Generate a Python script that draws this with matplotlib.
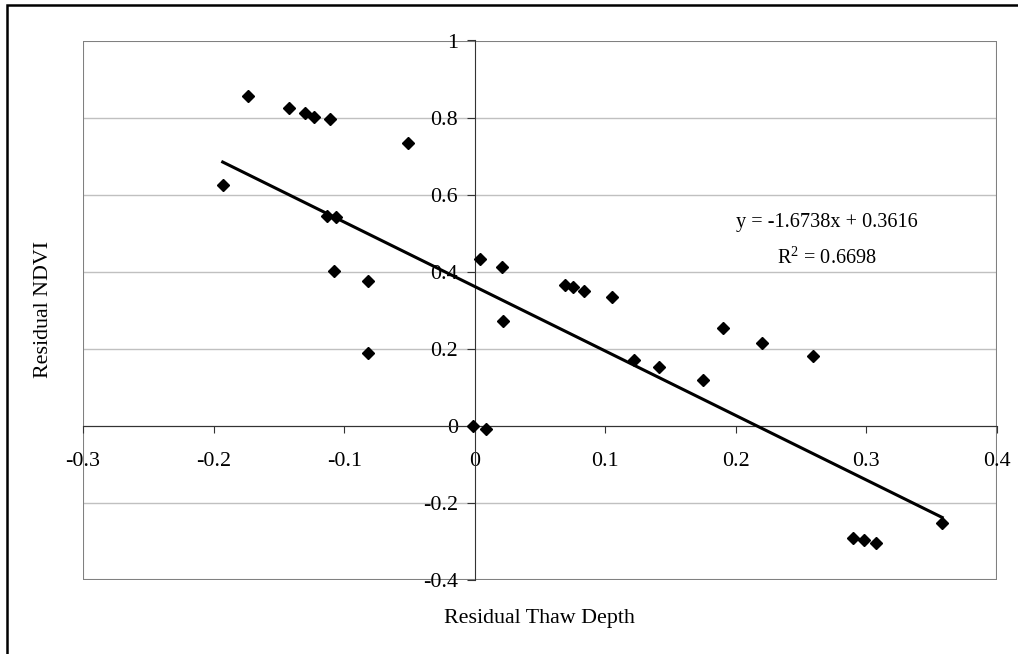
import numpy as np
import matplotlib.pyplot as plt
from matplotlib.patches import Rectangle


# =========================================================
# DATA
# =========================================================

thaw_depth = [
    -0.193, -0.174, -0.142, -0.130, -0.123, -0.111, -0.051,
    -0.113, -0.106, -0.108, -0.082, -0.082,
    0.004, -0.001, 0.009, 0.021, 0.022,
    0.069, 0.075, 0.084, 0.105,
    0.122, 0.141, 0.175, 0.190, 0.220, 0.259,
    0.290, 0.298, 0.307, 0.358,
]

ndvi = [
    0.625, 0.856, 0.826, 0.813, 0.802, 0.795, 0.733,
    0.545, 0.541, 0.403, 0.376, 0.188,
    0.433, 0.000, -0.008, 0.411, 0.272,
    0.366, 0.360, 0.350, 0.334,
    0.171, 0.154, 0.119, 0.253, 0.214, 0.180,
    -0.292, -0.296, -0.305, -0.253,
]

slope = -1.6738
intercept = 0.3616
r_squared = 0.6698

x_ticks = [-0.3, -0.2, -0.1, 0, 0.1, 0.2, 0.3, 0.4]
x_tick_labels = ["-0.3", "-0.2", "-0.1", "0", "0.1", "0.2", "0.3", "0.4"]

y_ticks = [-0.4, -0.2, 0, 0.2, 0.4, 0.6, 0.8, 1]
y_tick_labels = ["-0.4", "-0.2", "0", "0.2", "0.4", "0.6", "0.8", "1"]


# =========================================================
# FIGURE
# =========================================================

plt.rcParams["font.family"] = ["Liberation Serif", "DejaVu Serif"]
plt.rcParams["mathtext.fontset"] = "custom"
plt.rcParams["mathtext.rm"] = "Liberation Serif"

W, H = 1018, 654

fig = plt.figure(figsize=(W / 100, H / 100), dpi=100)

ax = fig.add_axes([83 / W, 1 - 580 / H, (997 - 83) / W, (580 - 40.5) / H])

ax.set_xlim(-0.3, 0.4)
ax.set_ylim(-0.4, 1)

# gridlines
for yv in y_ticks:
    ax.axhline(yv, color="#c0c0c0", lw=1, zorder=0)

# plot area border
ax.add_patch(Rectangle(
    (0, 0), 1, 1,
    transform=ax.transAxes,
    fill=False,
    edgecolor="#808080",
    lw=1.5,
    zorder=1
))

# axes through origin
for side in ["top", "right"]:
    ax.spines[side].set_visible(False)

ax.spines["left"].set_position(("data", 0))
ax.spines["bottom"].set_position(("data", 0))
ax.spines["left"].set_color("#333333")
ax.spines["bottom"].set_color("#333333")

ax.set_xticks(x_ticks)
ax.set_xticklabels(x_tick_labels)
ax.set_yticks(y_ticks)
ax.set_yticklabels(y_tick_labels)

ax.tick_params(axis="x", direction="out", length=5, pad=14,
               labelsize=15.8, color="#333333")
ax.tick_params(axis="y", direction="out", length=6, pad=6,
               labelsize=15.8, color="#333333")


# =========================================================
# SCATTER + TREND
# =========================================================

ax.plot(
    thaw_depth,
    ndvi,
    linestyle="none",
    marker="D",
    markersize=6.5,
    color="black",
    zorder=3
)

x_line = np.array([min(thaw_depth), max(thaw_depth)])

ax.plot(
    x_line,
    slope * x_line + intercept,
    color="black",
    lw=2.2,
    zorder=4
)

ax.text(
    0.27, 0.527,
    f"y = {slope}x + {intercept}",
    ha="center", va="center",
    fontsize=14.6
)

ax.text(
    0.27, 0.435,
    f"R$^2$ = {r_squared}",
    ha="center", va="center",
    fontsize=14.6
)


# =========================================================
# LABELS
# =========================================================

fig.text(539 / W, 1 - 618 / H, "Residual Thaw Depth",
         ha="center", va="center", fontsize=15.8)

fig.text(44 / W, 1 - 309 / H, "Residual NDVI",
         ha="center", va="center", rotation=90, fontsize=15.8)

# outer chart border
fig.add_artist(Rectangle(
    (7 / W, -0.1), 1.2, 1.1 - 5 / H,
    transform=fig.transFigure,
    fill=False,
    edgecolor="black",
    lw=1.8
))

plt.savefig("out.png", dpi=100)
